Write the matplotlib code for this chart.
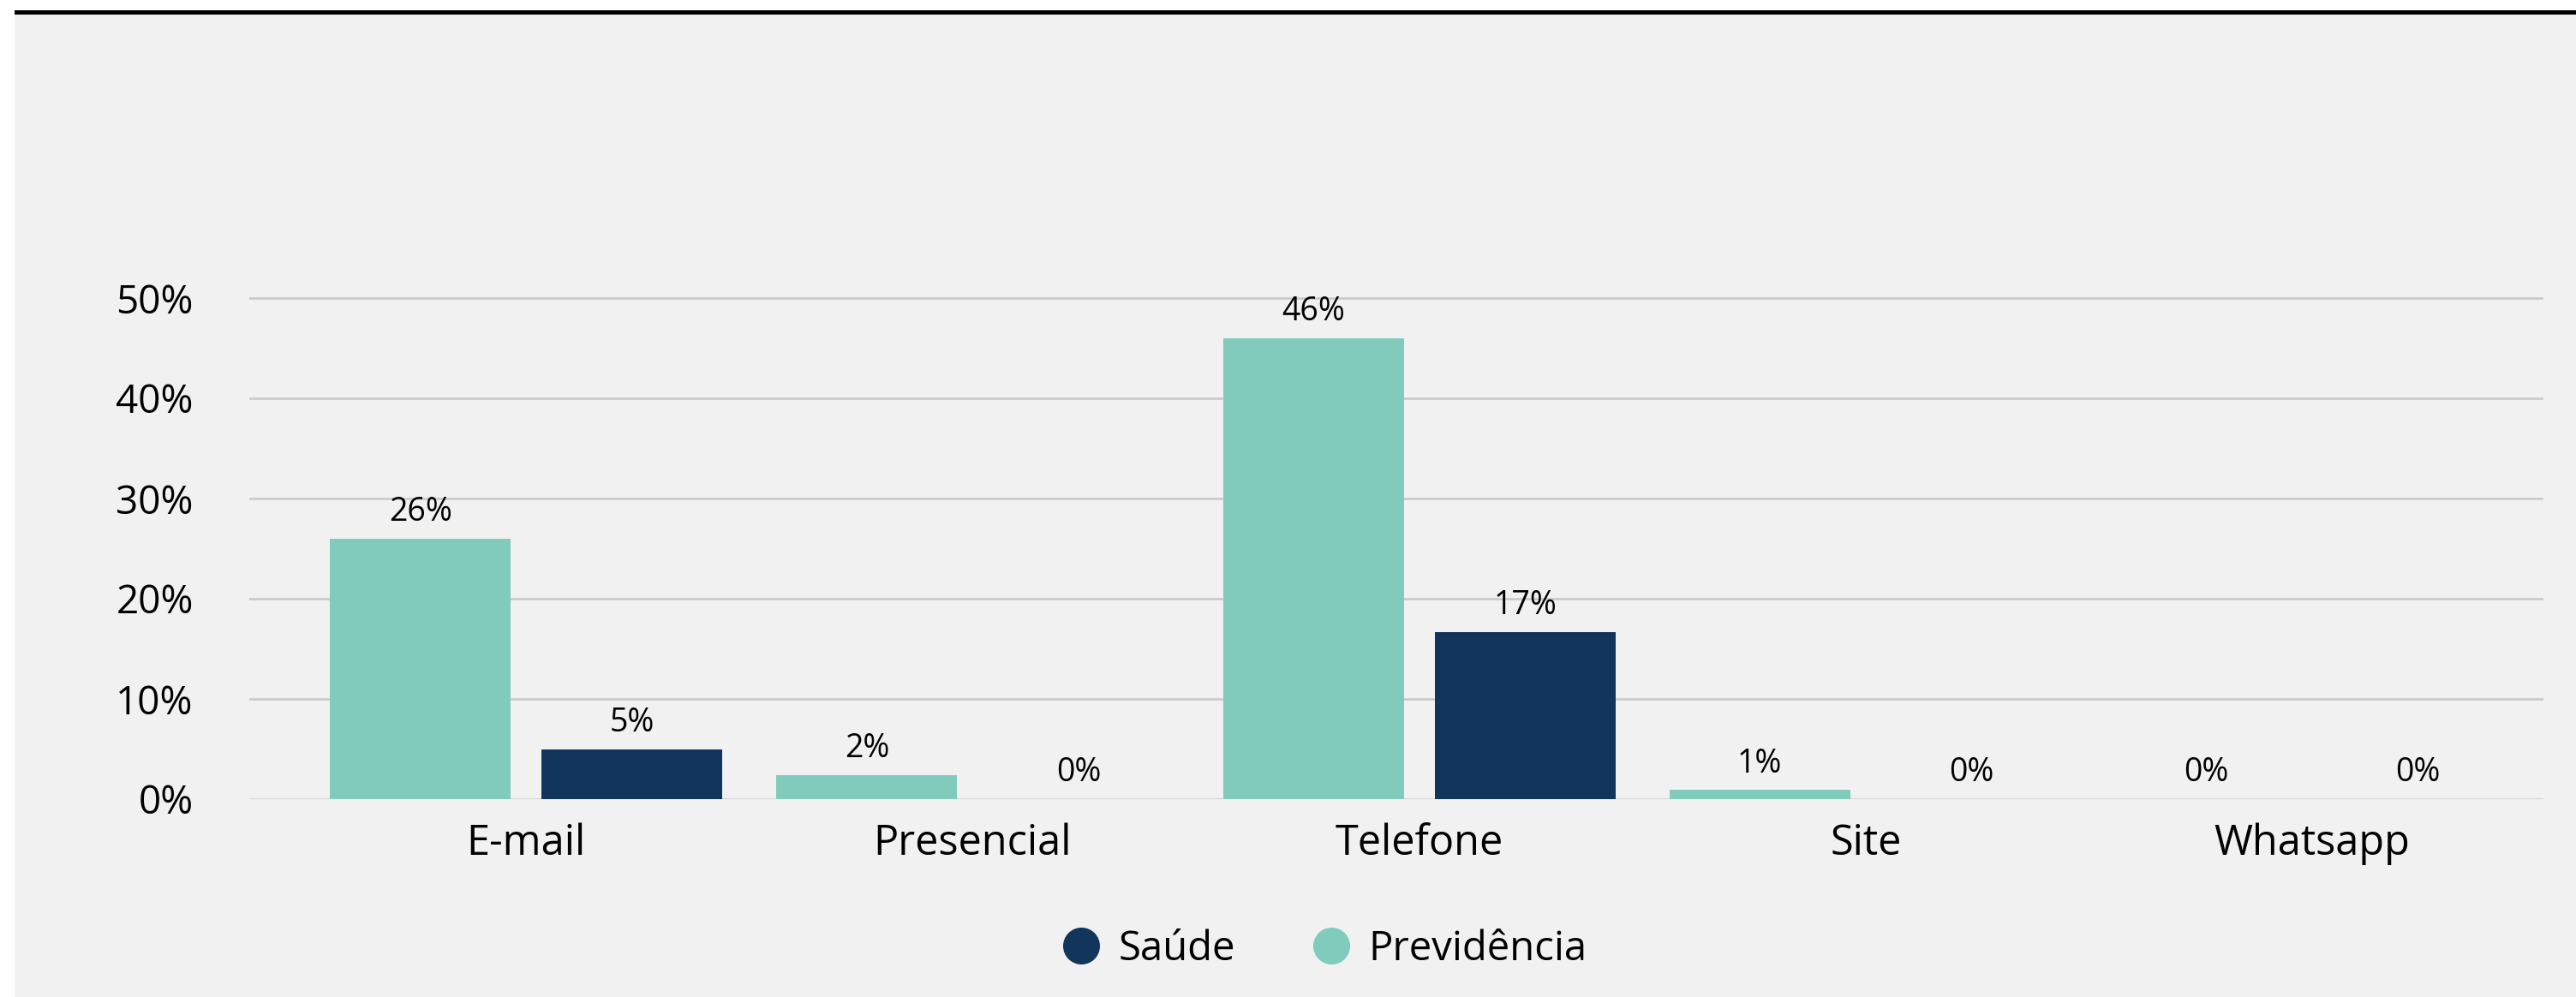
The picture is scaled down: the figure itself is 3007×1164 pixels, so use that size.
import matplotlib
matplotlib.use('Agg')
import matplotlib.pyplot as plt
from matplotlib.lines import Line2D
from matplotlib.patches import Rectangle
import numpy as np

plt.rcParams['font.family'] = ['Open Sans', 'DejaVu Sans']

# Dados do gráfico (%)
categorias = ['E-mail', 'Presencial', 'Telefone', 'Site', 'Whatsapp']
previdencia = [26.0, 2.4, 46.0, 0.9, 0.0]
saude = [5.0, 0.0, 16.7, 0.0, 0.0]
yticks = [0, 10, 20, 30, 40, 50]

COR_PREV = '#80cbbb'
COR_SAUDE = '#12355b'
FUNDO = '#f1f1f1'
W, H = 3007, 1164


def main():
    fig = plt.figure(figsize=(W / 100, H / 100), dpi=100, facecolor='white')

    # fundo cinza e faixa preta no topo (atrás dos eixos)
    fig.add_artist(Rectangle((17 / W, 0), 1 - 17 / W, 1 - 17 / H,
                             transform=fig.transFigure, facecolor=FUNDO,
                             edgecolor='none', zorder=-10))
    fig.add_artist(Rectangle((17 / W, 1 - 17 / H), 1 - 17 / W, 5 / H,
                             transform=fig.transFigure, facecolor='black',
                             edgecolor='none', zorder=-10))

    ax = fig.add_axes([291 / W, 1 - 933 / H, (2969 - 291) / W, (933 - 324.6) / H])
    ax.set_facecolor('none')

    x = np.arange(len(categorias))
    largura = 0.405
    desloc = 0.237

    b1 = ax.bar(x - desloc, previdencia, largura, color=COR_PREV, zorder=3)
    b2 = ax.bar(x + desloc, saude, largura, color=COR_SAUDE, zorder=3)

    # rótulos em cima das barras
    for barras, valores in ((b1, previdencia), (b2, saude)):
        for bar, v in zip(barras, valores):
            ax.annotate(f'{v:.0f}%', (bar.get_x() + bar.get_width() / 2, v),
                        xytext=(0, 15), textcoords='offset points',
                        ha='center', va='baseline', fontsize=27, color='black')

    ax.set_xlim(-0.62, 4.518)
    ax.set_ylim(0, 52)
    ax.set_xticks(x)
    ax.set_xticklabels(categorias, fontsize=35)
    ax.set_yticks(yticks)
    ax.set_yticklabels([f'{t}%' for t in yticks], fontsize=33)
    ax.tick_params(axis='both', length=0)
    ax.tick_params(axis='x', pad=20)
    ax.tick_params(axis='y', pad=47)

    ax.yaxis.grid(True, color='#c8c8c8', linewidth=1.8, zorder=0)
    ax.set_axisbelow(True)
    for s in ax.spines.values():
        s.set_visible(False)

    # legenda
    handles = [
        Line2D([], [], marker='o', linestyle='none', markersize=31,
               markerfacecolor=COR_SAUDE, markeredgecolor='none', label='Saúde'),
        Line2D([], [], marker='o', linestyle='none', markersize=31,
               markerfacecolor=COR_PREV, markeredgecolor='none', label='Previdência'),
    ]
    fig.legend(handles=handles, loc='center', bbox_to_anchor=(1546 / W, 1 - 1108 / H),
               ncol=2, frameon=False, fontsize=34, handlelength=0.95,
               handletextpad=0.45, columnspacing=1.9)

    fig.savefig('out.png', dpi=100, facecolor=fig.get_facecolor())
    plt.close(fig)


if __name__ == '__main__':
    main()
